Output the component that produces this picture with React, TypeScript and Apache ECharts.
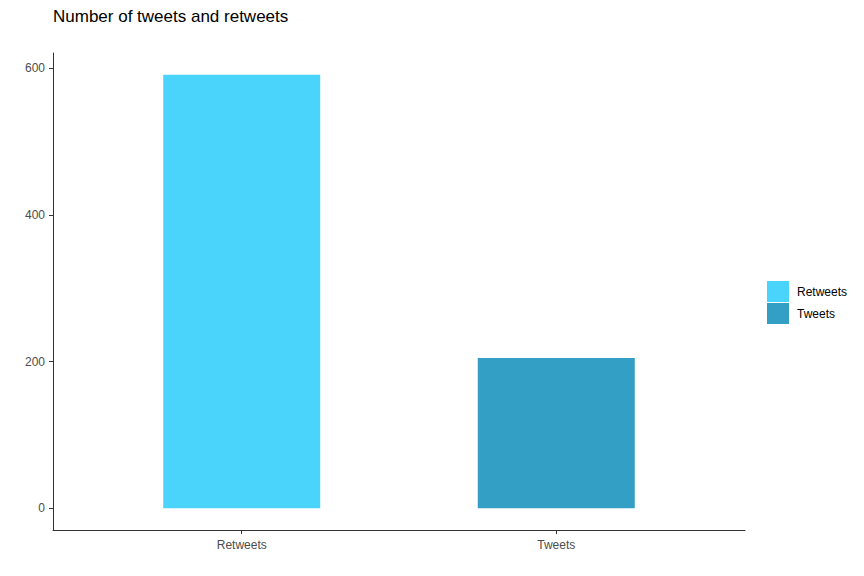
import { useEffect, useRef } from 'react';
import * as echarts from 'echarts';

const categories = ['Retweets', 'Tweets'];
const counts = [591, 205];
const colors = ['#4AD4FC', '#339FC4'];
const yTicks = [0, 200, 400, 600];

export default function App() {
  const chartRef = useRef<HTMLDivElement>(null);

  useEffect(() => {
    document.body.style.margin = '0';
    const chart = echarts.init(chartRef.current, null, { renderer: 'svg' });
    const font = 'Liberation Sans, Arial, sans-serif';
    const maxV = Math.max(...counts);
    const pad = maxV * 0.05;

    const option = {
      animation: false,
      backgroundColor: '#ffffff',
      title: {
        text: 'Number of tweets and retweets',
        left: 48,
        top: 3,
        textStyle: { fontFamily: font, fontSize: 17, fontWeight: 'normal', color: '#000000' },
      },
      legend: {
        orient: 'vertical',
        left: 767,
        top: 281,
        padding: 0,
        itemWidth: 22,
        itemHeight: 21,
        itemGap: 1,
        icon: 'rect',
        data: categories,
        textStyle: { fontFamily: font, fontSize: 12, color: '#000000', padding: [0, 0, 0, 3] },
      },
      grid: { left: 53, right: 119, top: 53, bottom: 46, containLabel: false },
      xAxis: {
        type: 'value',
        min: 0.4,
        max: 2.6,
        splitLine: { show: false },
        axisLine: { show: true, onZero: false, lineStyle: { color: '#333333', width: 1 } },
        axisTick: { show: true, length: 4, lineStyle: { color: '#333333' }, customValues: [1, 2] },
        axisLabel: {
          customValues: [1, 2],
          margin: 9,
          fontFamily: font,
          fontSize: 12,
          color: '#4D4D4D',
          formatter: (v: number) => categories[Math.round(v) - 1] ?? '',
        },
      },
      yAxis: {
        type: 'value',
        min: -pad,
        max: maxV + pad,
        splitLine: { show: false },
        axisLine: { show: true, onZero: false, lineStyle: { color: '#333333', width: 1 } },
        axisTick: { show: true, length: 4, lineStyle: { color: '#333333' }, customValues: yTicks },
        axisLabel: {
          customValues: yTicks,
          margin: 8,
          fontFamily: font,
          fontSize: 12,
          color: '#4D4D4D',
        },
      },
      series: categories.map((name, i) => ({
        name,
        type: 'bar',
        barWidth: 157,
        barGap: '-100%',
        itemStyle: { color: colors[i] },
        data: [[i + 1, counts[i]]],
      })),
    };

    chart.setOption(option);
    return () => {
      chart.dispose();
    };
  }, []);

  return <div ref={chartRef} style={{ width: '864px', height: '576px' }} />;
}
